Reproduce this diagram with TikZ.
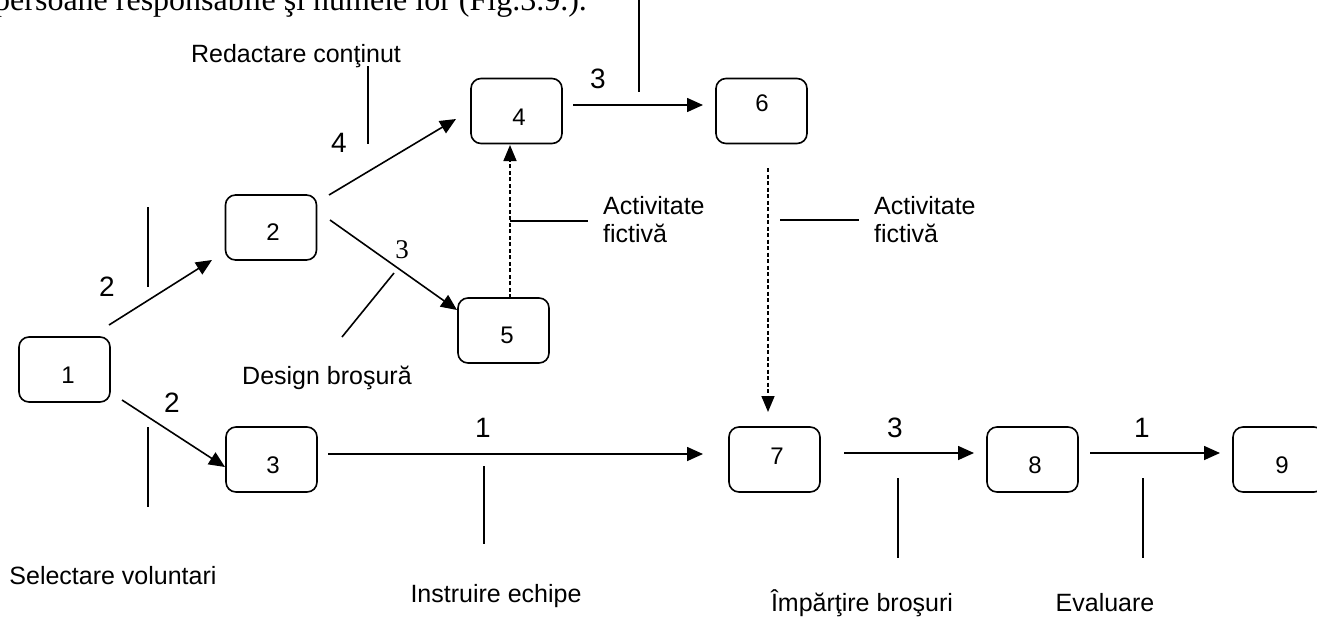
\documentclass[tikz,border=0pt]{standalone}
\usepackage{fontspec}
\setmainfont{Liberation Sans}
\newfontfamily\seriffam{Liberation Serif}
\usetikzlibrary{arrows.meta}
\begin{document}
\begin{tikzpicture}[x=1pt,y=-1pt,
  box/.style={draw, line width=1.6pt, rounded corners=10pt, minimum width=91pt, minimum height=65pt, inner sep=0pt},
  dig/.style={font=\fontsize{24}{24}\selectfont, inner sep=0pt},
  num/.style={font=\fontsize{28}{28}\selectfont, inner sep=0pt},
  txt/.style={font=\fontsize{25}{28}\selectfont, inner sep=0pt},
  arr/.style={line width=1.6pt, -{Triangle[length=16pt,width=14pt]}},
  tickline/.style={line width=1.6pt},
  fict/.style={line width=1.6pt, dash pattern=on 4pt off 2.5pt, -{Triangle[length=16pt,width=13pt]}}
]
\useasboundingbox (0,0) rectangle (1317,619);
\clip (0,0) rectangle (1317,619);
\fill[white] (0,0) rectangle (1317,619);

% caption fragment
\node[anchor=base west, inner sep=0pt, font=\seriffam\fontsize{32}{32}\selectfont] (cap) at (-6,10) {persoane responsabile şi numele lor (Fig.3.9.).};

% events
\node[box, label={[dig, name=l1, shift={(3.5,5.5)}]center:1}] (n1) at (64.5,369.5) {};
\node[box, label={[dig, name=l2, shift={(2,4.5)}]center:2}] (n2) at (271,227.5) {};
\node[box, label={[dig, name=l3, shift={(1.5,5.5)}]center:3}] (n3) at (271.5,459.5) {};
\node[box, label={[dig, name=l4, shift={(2.5,6)}]center:4}] (n4) at (516.5,111) {};
\node[box, label={[dig, name=l5, shift={(3.5,4.5)}]center:5}] (n5) at (503.5,330.5) {};
\node[box, label={[dig, name=l6, shift={(0.5,-8)}]center:6}] (n6) at (761.5,111) {};
\node[box, label={[dig, name=l7, shift={(2.5,-3.5)}]center:7}] (n7) at (774.5,459.5) {};
\node[box, label={[dig, name=l8, shift={(2.5,5.5)}]center:8}] (n8) at (1032.5,459.5) {};
\node[box, label={[dig, name=l9, shift={(3.5,5.5)}]center:9}] (n9) at (1278.5,459.5) {};

% arrow end points
\coordinate (a12s) at (109,325);  \coordinate (a12e) at (212,260);
\coordinate (a13s) at (122,400);  \coordinate (a13e) at (225,467);
\coordinate (a24s) at (329,195);  \coordinate (a24e) at (456,119);
\coordinate (a25s) at (330,220);  \coordinate (a25e) at (457,310);
\coordinate (a46s) at (573,105);  \coordinate (a46e) at (703,105);
\coordinate (a37s) at (328,454);  \coordinate (a37e) at (703,454);
\coordinate (a78s) at (844,453);  \coordinate (a78e) at (974,453);
\coordinate (a89s) at (1090,453); \coordinate (a89e) at (1220,453);
\coordinate (d54s) at (510,298);  \coordinate (d54e) at (510,145);
\coordinate (d67s) at (768,168);  \coordinate (d67e) at (768,412);

\draw[arr] (a12s) -- (a12e);
\draw[arr] (a13s) -- (a13e);
\draw[arr] (a24s) -- (a24e);
\draw[arr] (a25s) -- (a25e);
\draw[arr] (a46s) -- (a46e);
\draw[arr] (a37s) -- (a37e);
\draw[arr] (a78s) -- (a78e);
\draw[arr] (a89s) -- (a89e);
\draw[fict] (d54s) -- (d54e);
\draw[fict] (d67s) -- (d67e);

% durations
\node[num] (w12) at (107,287) {2};
\node[num] (w13) at (172,403) {2};
\node[num] (w24) at (339,143) {4};
\node[inner sep=0pt, font=\seriffam\fontsize{27}{27}\selectfont] (w25) at (402,250) {3};
\node[num] (w46) at (598,79) {3};
\node[num] (w37) at (483,428) {1};
\node[num] (w78) at (895,428) {3};
\node[num] (w89) at (1142,428) {1};

% leader lines
\coordinate (t12a) at (148,207);  \coordinate (t12b) at (148,287);
\coordinate (t13a) at (148,427);  \coordinate (t13b) at (148,507);
\coordinate (t24a) at (368,66);   \coordinate (t24b) at (368,144);
\coordinate (t25a) at (394,273);  \coordinate (t25b) at (342,337);
\coordinate (t46a) at (639,-5);   \coordinate (t46b) at (639,92);
\coordinate (t37a) at (484,466);  \coordinate (t37b) at (484,544);
\coordinate (t78a) at (898,478);  \coordinate (t78b) at (898,558);
\coordinate (t89a) at (1143,478); \coordinate (t89b) at (1143,558);
\coordinate (f1a) at (510,221);   \coordinate (f1b) at (588,221);
\coordinate (f2a) at (780,220);   \coordinate (f2b) at (859,220);
\draw[tickline] (t12a) -- (t12b);
\draw[tickline] (t13a) -- (t13b);
\draw[tickline] (t24a) -- (t24b);
\draw[tickline] (t25a) -- (t25b);
\draw[tickline] (t46a) -- (t46b);
\draw[tickline] (t37a) -- (t37b);
\draw[tickline] (t78a) -- (t78b);
\draw[tickline] (t89a) -- (t89b);
\draw[tickline] (f1a) -- (f1b);
\draw[tickline] (f2a) -- (f2b);

% activity names
\node[txt, anchor=base] (redact) at (296,62) {Redactare conţinut};
\node[txt, anchor=base] (design) at (327,384) {Design broşură};
\node[txt, anchor=base] (select) at (113,584) {Selectare voluntari};
\node[txt, anchor=base] (instr) at (496,602) {Instruire echipe};
\node[txt, anchor=base] (imp) at (862,611) {Împărţire broşuri};
\node[txt, anchor=base] (eval) at (1105,611) {Evaluare};
\node[txt, anchor=north west, align=left] (fict1) at (603,196) {Activitate\\fictivă};
\node[txt, anchor=north west, align=left] (fict2) at (874,196) {Activitate\\fictivă};
\end{tikzpicture}
\end{document}
